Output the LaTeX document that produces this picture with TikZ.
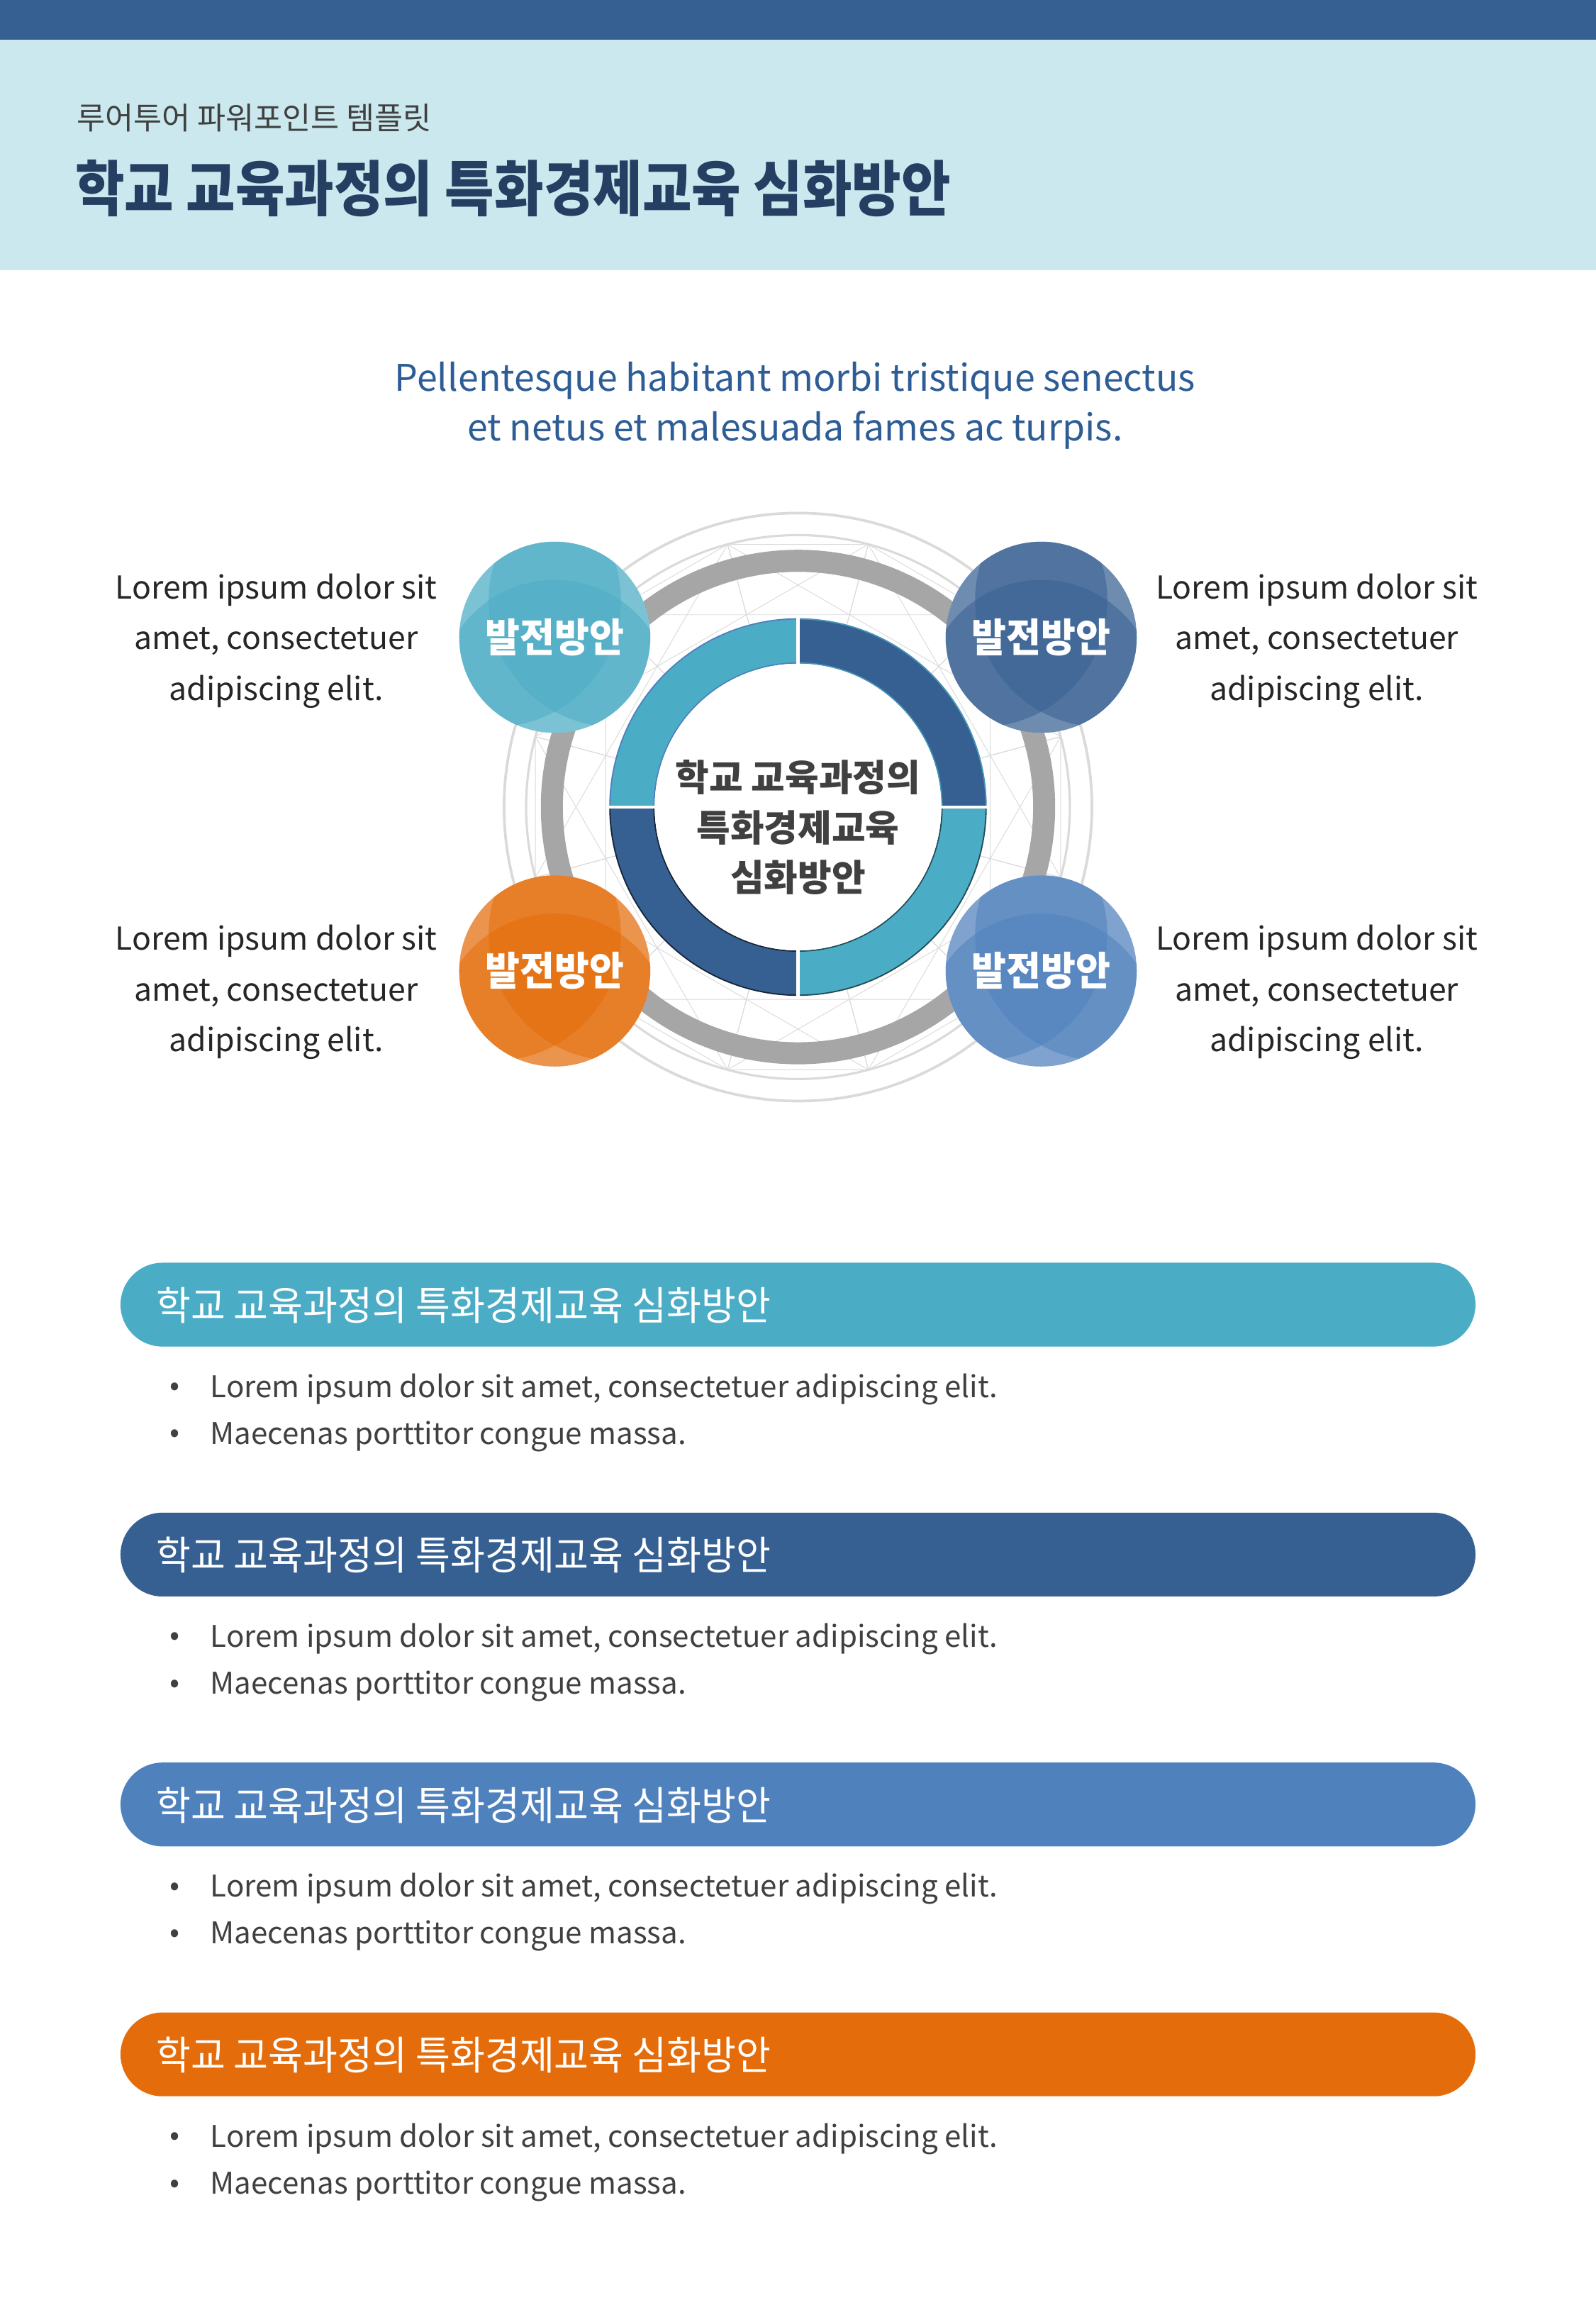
\documentclass[tikz,border=0pt]{standalone}
\usepackage{fontspec}
\setmainfont{Noto Sans CJK KR}
\usepackage{graphicx}
\definecolor{hdr}{HTML}{366091}
\definecolor{band}{HTML}{CBE8EE}
\definecolor{ttl}{HTML}{253F63}
\definecolor{txt}{HTML}{404040}
\definecolor{side}{HTML}{262626}
\definecolor{lead}{HTML}{2E5D96}
\definecolor{cteal}{HTML}{4BACC6}
\definecolor{cnavy}{HTML}{376092}
\definecolor{cblue}{HTML}{4F81BD}
\definecolor{corng}{HTML}{E46C0A}
\definecolor{lgray}{HTML}{DADADA}
\definecolor{ringgray}{HTML}{A6A6A6}
\newcommand\fs[2]{\fontsize{#1}{#2}\selectfont}
\newcommand\bubbleshape[4]{%
  \begin{scope}[shift={(#2,#3)}]
    \begin{scope}
      \clip (0,0) circle[radius=65];
      \fill[#4!40!white] (0,0) circle[radius=65];
      \fill[#4,opacity=0.54] (0,40) circle[radius=79];
      \fill[#4,opacity=0.54] (41,-25) circle[radius=86];
      \fill[#4,opacity=0.54] (-41,-25) circle[radius=86];
    \end{scope}
    \node[bubtext] (#1) at (0,0) {\scalebox{0.95}[1]{발전방안}};
  \end{scope}}
\begin{document}
\begin{tikzpicture}[x=1pt,y=-1pt,
  bubtext/.style={text=white,font=\fs{27}{32}\bfseries,inner sep=0},
  sidetext/.style={text=side,font=\fs{21.5}{34.5},align=center,inner sep=0},
  bartext/.style={text=white,font=\fs{27}{32},anchor=west,inner sep=0},
  bullettext/.style={text=txt,font=\fs{20.3}{24},anchor=west,inner sep=0},
  bulletdot/.style={text=txt,font=\fs{20}{24},inner sep=0},
  pat/.style={draw=lgray,line width=0.45},
  quad/.style={line width=0.9}]
\useasboundingbox (0,0) rectangle (1086,1568);
\fill[white] (0,0) rectangle (1086,1568);
% header
\fill[band] (0,27) rectangle (1086,184);
\fill[hdr] (0,0) rectangle (1086,27);
\node[anchor=west,inner sep=0,text=txt,font=\fs{21}{24}] (sub) at (52,80) {루어투어 파워포인트 템플릿};
\node[anchor=west,inner sep=0,text=ttl,font=\fs{41}{46}\bfseries] (title) at (51,128) {\scalebox{0.89}[1]{학교 교육과정의 특화경제교육 심화방안}};
% lead
\node[inner sep=0,text=lead,font=\fs{25}{34},align=center] (lead) at (541,276) {Pellentesque habitant morbi tristique senectus\\et netus et malesuada fames ac turpis.};
% diagram background
\begin{scope}[shift={(543,549)}]
  \draw[lgray,line width=1.8] (0,0) circle[radius=200];
  \draw[lgray,line width=1.5] (0,0) circle[radius=185];
  \foreach \k in {0,...,11}{
    \draw[pat] (15+30*\k:185) -- (45+30*\k:185)
               (15+30*\k:185) -- (105+30*\k:185)
               (15+30*\k:185) -- (195+30*\k:185);
  }
  \draw[ringgray,line width=15] (0,0) circle[radius=167.5];
  % donut
  \filldraw[quad,fill=cteal,draw=cblue] (180:128) arc[start angle=180,end angle=270,radius=128] -- (270:98) arc[start angle=270,end angle=180,radius=98] -- cycle;
  \filldraw[quad,fill=cnavy,draw=cteal!70!cnavy] (270:128) arc[start angle=270,end angle=360,radius=128] -- (0:98) arc[start angle=360,end angle=270,radius=98] -- cycle;
  \filldraw[quad,fill=cteal,draw=cteal!45!black] (0:128) arc[start angle=0,end angle=90,radius=128] -- (90:98) arc[start angle=90,end angle=0,radius=98] -- cycle;
  \filldraw[quad,fill=cnavy,draw=cnavy!40!black] (90:128) arc[start angle=90,end angle=180,radius=128] -- (180:98) arc[start angle=180,end angle=90,radius=98] -- cycle;
  \draw[white,line width=2.2] (-130,0) -- (130,0) (0,-130) -- (0,130);
  \fill[white] (0,0) circle[radius=97.5];
\end{scope}
\node[inner sep=0,text=txt,font=\fs{25}{34}\bfseries,align=center] (core) at (543,563) {학교 교육과정의\\특화경제교육\\심화방안};
% bubbles
\bubbleshape{b1}{377.5}{433.5}{cteal}
\bubbleshape{b2}{708.5}{433.5}{cnavy}
\bubbleshape{b3}{377.5}{660.5}{corng}
\bubbleshape{b4}{708.5}{660.5}{cblue}
% side texts
\node[sidetext] (s1) at (188,436) {Lorem ipsum dolor sit\\amet, consectetuer\\adipiscing elit.};
\node[sidetext] (s2) at (896,436) {Lorem ipsum dolor sit\\amet, consectetuer\\adipiscing elit.};
\node[sidetext] (s3) at (188,675) {Lorem ipsum dolor sit\\amet, consectetuer\\adipiscing elit.};
\node[sidetext] (s4) at (896,675) {Lorem ipsum dolor sit\\amet, consectetuer\\adipiscing elit.};
% bars
\foreach \i/\c in {0/cteal,1/cnavy,2/cblue,3/corng}{
  \fill[\c,rounded corners=28.5] (82,859+170*\i) rectangle (1004,916+170*\i);
  \node[bartext] (bar\i) at (106,888+170*\i) {\scalebox{0.95}[1]{학교 교육과정의 특화경제교육 심화방안}};
  \node[bulletdot] (da\i) at (119,945+170*\i) {•};
  \node[bullettext] (ta\i) at (143,945+170*\i) {Lorem ipsum dolor sit amet, consectetuer adipiscing elit.};
  \node[bulletdot] (db\i) at (119,977+170*\i) {•};
  \node[bullettext] (tb\i) at (143,977+170*\i) {Maecenas porttitor congue massa.};
}
\end{tikzpicture}
\end{document}
